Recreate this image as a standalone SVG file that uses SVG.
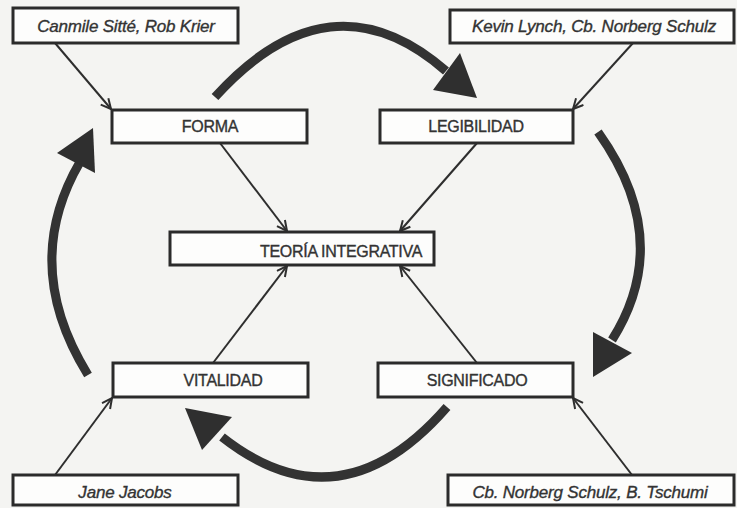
<svg xmlns="http://www.w3.org/2000/svg" width="737" height="508" viewBox="0 0 737 508">
<style>
.box{fill:#fdfdfc;stroke:#2b2b2b;stroke-width:3}
.lbl{font-family:"Liberation Sans",Arial,sans-serif;font-size:16px;fill:#333;stroke:#333;stroke-width:0.35;text-anchor:middle;letter-spacing:-0.3px}
.it{font-style:italic;font-size:17px;letter-spacing:-0.2px}
.thin{fill:none;stroke:#2e2e2e;stroke-width:2;marker-end:url(#open)}
.big{fill:none;stroke:#333;stroke-width:9}
.head{fill:#2f2f2f}
</style>
<defs>
<marker id="open" markerWidth="14" markerHeight="14" refX="11" refY="6" orient="auto" markerUnits="userSpaceOnUse">
<path d="M1,1 L11,6 L1,11" fill="none" stroke="#2e2e2e" stroke-width="2"/>
</marker>
</defs>
<rect width="737" height="508" fill="#f4f4f2"/>
<g id="connectors">
<path class="thin" d="M55,43 L111,109"/>
<path class="thin" d="M633,43 L573,109"/>
<path class="thin" d="M220,143 L287,231"/>
<path class="thin" d="M477,143 L400,231"/>
<path class="thin" d="M213,363 L287,266"/>
<path class="thin" d="M477,363 L400,266"/>
<path class="thin" d="M55,475 L112,398"/>
<path class="thin" d="M632,475 L573,398"/>
<path class="big" d="M215,97 Q330,-30 446,71"/>
<polygon class="head" points="477,98 460,53 433,90"/>
<path class="big" d="M598,132 Q675,240 612,340"/>
<polygon class="head" points="593,377 593,332 632,353"/>
<path class="big" d="M447,407 Q340,530 222,437"/>
<polygon class="head" points="185,408 232,417 202,450"/>
<path class="big" d="M88,375 Q20,265 80,162"/>
<polygon class="head" points="93,128 57,153 95,173"/>
</g>
<g id="n-canmile"><rect class="box" x="13" y="8" width="225" height="35"/><text class="lbl it" x="126" y="32">Canmile Sitté, Rob Krier</text></g>
<g id="n-kevin"><rect class="box" x="450" y="10" width="284" height="33"/><text class="lbl it" x="594" y="32">Kevin Lynch, Cb. Norberg Schulz</text></g>
<g id="n-forma"><rect class="box" x="112" y="110" width="195" height="33"/><text class="lbl" x="210" y="132">FORMA</text></g>
<g id="n-legibilidad"><rect class="box" x="380" y="110" width="193" height="33"/><text class="lbl" x="476" y="132">LEGIBILIDAD</text></g>
<g id="n-teoria"><rect class="box" x="170" y="232" width="264" height="33"/><text class="lbl" x="341" y="257">TEORÍA INTEGRATIVA</text></g>
<g id="n-vitalidad"><rect class="box" x="113" y="363" width="195" height="34"/><text class="lbl" x="223" y="386">VITALIDAD</text></g>
<g id="n-significado"><rect class="box" x="378" y="363" width="195" height="34"/><text class="lbl" x="477" y="386">SIGNIFICADO</text></g>
<g id="n-jane"><rect class="box" x="13" y="475" width="225" height="30"/><text class="lbl it" x="125" y="498">Jane Jacobs</text></g>
<g id="n-cb"><rect class="box" x="448" y="475" width="286" height="30"/><text class="lbl it" x="590" y="498">Cb. Norberg Schulz, B. Tschumi</text></g>
</svg>
